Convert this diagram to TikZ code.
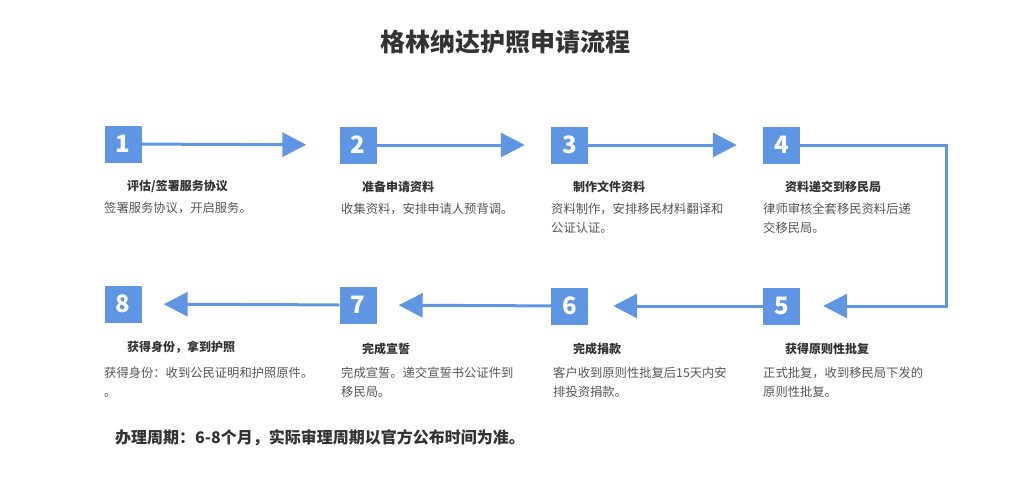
\documentclass[tikz,border=0pt]{standalone}
\usepackage{fontspec}
\setmainfont{Noto Sans CJK SC}
\usetikzlibrary{arrows.meta}
\definecolor{boxblue}{RGB}{94,150,227}
\definecolor{titlegray}{RGB}{51,51,51}
\definecolor{textgray}{RGB}{85,85,85}
\begin{document}
\begin{tikzpicture}[x=1pt,y=-1pt,
  numbox/.style={fill=boxblue,minimum size=37pt,inner sep=0pt,text=white,font=\fontsize{24}{24}\selectfont\bfseries},
  flow/.style={boxblue,line width=3pt,-{Triangle[length=24pt,width=24pt]},shorten >=26pt},
  steptitle/.style={anchor=west,inner sep=0pt,text=titlegray,font=\fontsize{12}{12}\selectfont\bfseries},
  stepdesc/.style={anchor=north west,inner sep=0pt,align=left,text=textgray,font=\fontsize{12.3}{19}\selectfont}]
\useasboundingbox (0,0) rectangle (1022,482);
% 标题
\node[text=titlegray,font=\fontsize{25}{25}\selectfont\bfseries] (title) at (505,42) {格林纳达护照申请流程};

% 第一行
\node[numbox] (b1) at (123,144) {1};
\node[numbox] (b2) at (358,145) {2};
\node[numbox] (b3) at (569.5,145) {3};
\node[numbox] (b4) at (781.5,145) {4};
\node[steptitle] (t1) at (127,186) {评估/签署服务协议};
\node[steptitle] (t2) at (362,187) {准备申请资料};
\node[steptitle] (t3) at (573,187) {制作文件资料};
\node[steptitle] (t4) at (785,187) {资料递交到移民局};
\node[stepdesc] (d1) at (104,202) {签署服务协议，开启服务。};
\node[stepdesc] (d2) at (341,203) {收集资料，安排申请人预背调。};
\node[stepdesc] (d3) at (551,203) {资料制作，安排移民材料翻译和\\公证认证。};
\node[stepdesc] (d4) at (763,203) {律师审核全套移民资料后递\\交移民局。};

% 第二行
\node[numbox] (b5) at (781.5,306) {5};
\node[numbox] (b6) at (569.5,306) {6};
\node[numbox] (b7) at (358,305) {7};
\node[numbox] (b8) at (123,304) {8};
\node[steptitle] (t5) at (785,349) {获得原则性批复};
\node[steptitle] (t6) at (573,349) {完成捐款};
\node[steptitle] (t7) at (362,349) {完成宣誓};
\node[steptitle] (t8) at (127,347) {获得身份，拿到护照};
\node[stepdesc] (d5) at (763,367) {正式批复，收到移民局下发的\\原则性批复。};
\node[stepdesc] (d6) at (553,367) {客户收到原则性批复后15天内安\\排投资捐款。};
\node[stepdesc] (d7) at (341,367) {完成宣誓。递交宣誓书公证件到\\移民局。};
\node[stepdesc] (d8) at (104,367) {获得身份：收到公民证明和护照原件。\\。};

% 箭头
\draw[flow,shorten >=33pt] (b1) -- (b2);
\draw[flow] (b2) -- (b3);
\draw[flow] (b3) -- (b4);
\coordinate (turn) at (946,145);
\draw[flow,shorten >=23pt] (b4) -- (turn) |- (b5);
\draw[flow,shorten >=25pt] (b5) -- (b6);
\draw[flow,shorten >=22pt] (b6) -- (b7);
\draw[flow,shorten >=22pt] (b7) -- (b8);

% 说明
\node[anchor=west,inner sep=0pt,text=titlegray,font=\fontsize{16}{16}\selectfont\bfseries] (note) at (115,438) {办理周期：6-8个月，实际审理周期以官方公布时间为准。};
\end{tikzpicture}
\end{document}
